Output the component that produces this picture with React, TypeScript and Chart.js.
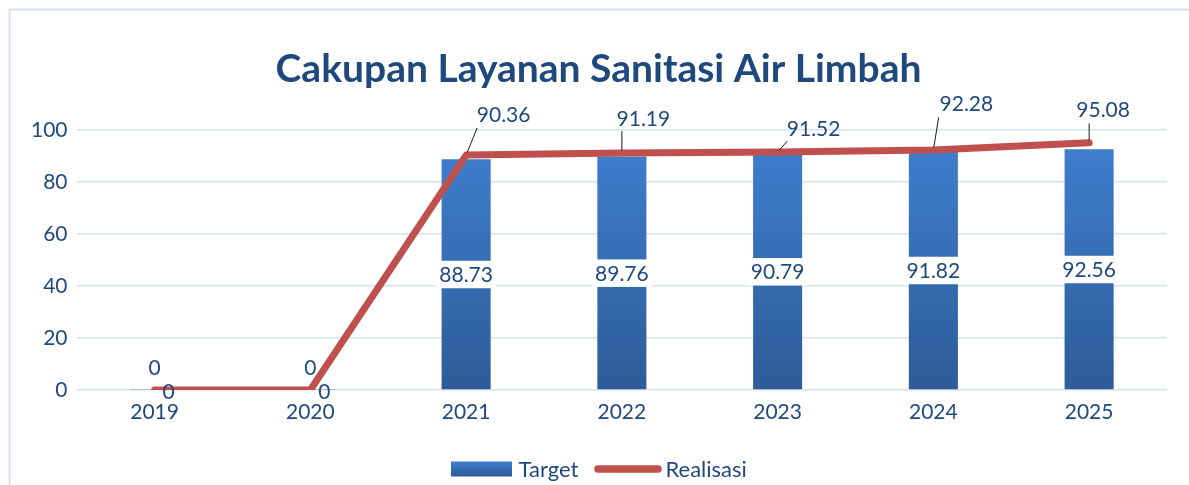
import React, { useEffect, useRef } from "react";
import { Chart, registerables } from "chart.js";

Chart.register(...registerables);

const categories = ["2019", "2020", "2021", "2022", "2023", "2024", "2025"];
const targetValues = [0, 0, 88.73, 89.76, 90.79, 91.82, 92.56];
const realisasiValues = [0, 0, 90.36, 91.19, 91.52, 92.28, 95.08];
const yTicks = [0, 20, 40, 60, 80, 100];
const chartTitle = "Cakupan Layanan Sanitasi Air Limbah";
const seriesNames = ["Target", "Realisasi"];

const TEXT = "#1F497D";
const LINE = "#C0504D";
const GRID = "#D6E1F0";
const BAR_TOP = "#3E7DCC";
const BAR_BOTTOM = "#2D5C98";
const FONT = "Lato, 'Open Sans', sans-serif";

// label placement (style): [labelDx, labelDy, leaderEndDx, leaderEndDy] relative to the point
const lineLabelPlacement: number[][] = [
  [14, 1, 0, 0],
  [14, 1, 0, 0],
  [37.5, -41, 11, -27],
  [21.5, -35, 0, -22],
  [36, -24, 9.7, -11],
  [33, -46.7, 5.3, -32.7],
  [14, -33.7, 0, -19.4],
];

const labelsPlugin = {
  id: "customDecor",
  beforeDraw(chart: any) {
    const ctx = chart.ctx;
    ctx.save();
    ctx.fillStyle = "#ffffff";
    ctx.fillRect(0, 0, chart.width, chart.height);
    ctx.strokeStyle = "#D6E1F0";
    ctx.lineWidth = 2;
    ctx.strokeRect(9.5, 9.5, chart.width + 20, chart.height + 20);
    // title
    ctx.fillStyle = TEXT;
    ctx.font = `bold 39px ${FONT}`;
    ctx.textAlign = "center";
    ctx.textBaseline = "alphabetic";
    ctx.fillText(chartTitle, 598.5, 81.5);
    // legend
    const lg = ctx.createLinearGradient(0, 461.5, 0, 476.5);
    lg.addColorStop(0, BAR_TOP);
    lg.addColorStop(1, BAR_BOTTOM);
    ctx.fillStyle = lg;
    ctx.fillRect(451, 461.5, 61, 15);
    ctx.fillStyle = TEXT;
    ctx.font = `22px ${FONT}`;
    ctx.textAlign = "left";
    ctx.fillText(seriesNames[0], 518.5, 476.8);
    ctx.strokeStyle = LINE;
    ctx.lineWidth = 7.5;
    ctx.lineCap = "round";
    ctx.beginPath();
    ctx.moveTo(598, 469);
    ctx.lineTo(658, 469);
    ctx.stroke();
    ctx.fillText(seriesNames[1], 665.5, 476.8);
    ctx.restore();
  },
  afterDatasetsDraw(chart: any) {
    const ctx = chart.ctx;
    ctx.save();
    ctx.font = `21px ${FONT}`;
    ctx.textAlign = "center";
    ctx.textBaseline = "alphabetic";
    const capHalf = 7.6;
    // bar labels
    const barMeta = chart.getDatasetMeta(0);
    barMeta.data.forEach((el: any, i: number) => {
      const v = targetValues[i];
      const txt = String(v);
      let cy = (el.y + el.base) / 2;
      if (v === 0) {
        cy = el.base - 22;
      } else {
        const w = ctx.measureText(txt).width;
        ctx.fillStyle = "#ffffff";
        ctx.fillRect(el.x - w / 2 - 3, cy - 13.5, w + 6, 27.5);
      }
      ctx.fillStyle = TEXT;
      ctx.fillText(txt, el.x, cy + capHalf);
    });
    // line labels
    const lineMeta = chart.getDatasetMeta(1);
    lineMeta.data.forEach((pt: any, i: number) => {
      const [dx, dy, lx, ly] = lineLabelPlacement[i];
      const txt = String(realisasiValues[i]);
      if (lx !== 0 || ly !== 0) {
        const len = Math.hypot(lx, ly);
        ctx.strokeStyle = "#1a1a1a";
        ctx.lineWidth = 1;
        ctx.beginPath();
        ctx.moveTo(pt.x + (lx / len) * 2.5, pt.y + (ly / len) * 2.5);
        ctx.lineTo(pt.x + lx, pt.y + ly);
        ctx.stroke();
      }
      ctx.fillStyle = TEXT;
      ctx.fillText(txt, pt.x + dx, pt.y + dy + capHalf);
    });
    ctx.restore();
  },
};

export default function App() {
  const ref = useRef<HTMLCanvasElement | null>(null);
  useEffect(() => {
    if (!ref.current) return;
    const chart = new Chart(ref.current, {
      type: "bar",
      data: {
        labels: categories,
        datasets: [
          {
            type: "bar",
            label: seriesNames[0],
            data: targetValues,
            order: 2,
            backgroundColor: (c: any) => {
              const ch = c.chart;
              const sc = ch.scales && ch.scales.y;
              if (!ch.chartArea || !sc) return BAR_TOP;
              const g = ch.ctx.createLinearGradient(0, sc.getPixelForValue(92), 0, sc.getPixelForValue(0));
              g.addColorStop(0, BAR_TOP);
              g.addColorStop(1, BAR_BOTTOM);
              return g;
            },
            borderWidth: 0,
            minBarLength: 1,
            categoryPercentage: 1,
            barPercentage: 0.315,
          },
          {
            type: "line",
            label: seriesNames[1],
            data: realisasiValues,
            order: 1,
            borderColor: LINE,
            borderWidth: 7,
            borderCapStyle: "round",
            borderJoinStyle: "round",
            pointRadius: 0,
            pointHoverRadius: 0,
            tension: 0,
            fill: false,
          },
        ],
      },
      options: {
        responsive: false,
        animation: false,
        devicePixelRatio: 1,
        layout: { padding: { top: 130, left: 21.8, right: 22, bottom: 49.8 } },
        plugins: {
          legend: { display: false },
          title: { display: false },
          tooltip: { enabled: false },
        },
        scales: {
          x: {
            offset: true,
            grid: { display: false, drawTicks: false },
            border: { display: false },
            ticks: { color: TEXT, font: { family: FONT, size: 21 }, padding: 10 },
          },
          y: {
            min: yTicks[0],
            max: yTicks[yTicks.length - 1],
            afterBuildTicks: (axis: any) => {
              axis.ticks = yTicks.map((v) => ({ value: v }));
            },
            grid: { color: GRID, lineWidth: 1.6, drawTicks: false },
            border: { display: false },
            ticks: { color: TEXT, font: { family: FONT, size: 21 }, padding: 9.2 },
          },
        },
      },
      plugins: [labelsPlugin],
    } as any);
    return () => chart.destroy();
  }, []);
  return (
    <div style={{ position: "fixed", left: 0, top: 0, width: 1189, height: 485, background: "#fff" }}>
      <canvas ref={ref} width={1189} height={485} style={{ display: "block" }} />
    </div>
  );
}
